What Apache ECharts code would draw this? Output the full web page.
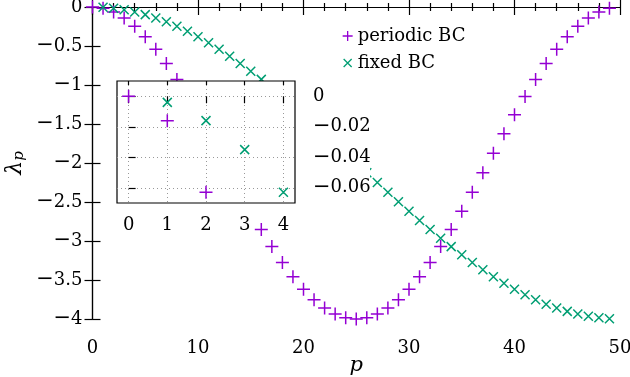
<!DOCTYPE html>
<html>
<head>
<meta charset="utf-8">
<script src="https://cdn.jsdelivr.net/npm/echarts@6/dist/echarts.min.js"></script>
<style>
  html, body { margin: 0; padding: 0; background: #fff; }
  #chart { width: 630px; height: 377px; }
</style>
</head>
<body>
<div id="chart"></div>
<script>
// eigenvalues, p = 0..49 (periodic) and p = 1..49 (fixed)
const periodic = [
  0, -0.016, -0.063, -0.140, -0.247, -0.382, -0.542, -0.725, -0.928, -1.148,
  -1.382, -1.625, -1.874, -2.126, -2.375, -2.618, -2.852, -3.072, -3.275, -3.458,
  -3.618, -3.753, -3.860, -3.937, -3.984, -4.000, -3.984, -3.937, -3.860, -3.753,
  -3.618, -3.458, -3.275, -3.072, -2.852, -2.618, -2.375, -2.126, -1.874, -1.625,
  -1.382, -1.148, -0.928, -0.725, -0.542, -0.382, -0.247, -0.140, -0.063, -0.016
];
const fixed = [
  -0.004, -0.016, -0.035, -0.063, -0.098, -0.140, -0.190, -0.247, -0.311, -0.382,
  -0.459, -0.542, -0.631, -0.725, -0.824, -0.928, -1.037, -1.148, -1.264, -1.382,
  -1.503, -1.625, -1.749, -1.874, -2.000, -2.126, -2.251, -2.375, -2.497, -2.618,
  -2.736, -2.852, -2.964, -3.072, -3.176, -3.275, -3.369, -3.458, -3.541, -3.618,
  -3.689, -3.753, -3.810, -3.860, -3.902, -3.937, -3.965, -3.984, -3.996
];
const insetXTicks = [0, 1, 2, 3, 4];
const insetYTicks = [0, -0.02, -0.04, -0.06];
const seriesNames = ['periodic BC', 'fixed BC'];

const purple = '#9400d3';
const green = '#009e73';
const font = 'DejaVu Serif';
const plusPath = 'path://M-1,0L1,0M0,-1L0,1';
const crossPath = 'path://M-1,-1L1,1M-1,1L1,-1';
// same cross, padded so the legend draws it a bit smaller than the plus
const crossLegend = 'path://M-1.25,-1.25M1.25,1.25M-1,-1L1,1M-1,1L1,-1';

const periodicPts = periodic.map((v, i) => [i, v]);
const fixedPts = fixed.map((v, i) => [i + 1, v]);
const insetPeriodic = periodicPts.filter(d => d[0] <= 4 && d[1] >= -0.07);
const insetFixed = fixedPts.filter(d => d[0] <= 4 && d[1] >= -0.07);

// wide typographic minus, like the original
const minus = v => v < 0 ? '{m|\u2212}' + String(-v) : String(v);
const minusRich = { m: { fontFamily: font, fontSize: 21, color: '#000' } };
const black = { lineStyle: { color: '#000', width: 1.2 } };
const tickStyle = { color: '#000', width: 1.2 };
const labelFont = { fontFamily: font, fontSize: 18, color: '#000', rich: minusRich };

const chart = echarts.init(document.getElementById('chart'));

chart.setOption({
  animation: false,
  backgroundColor: '#fff',
  textStyle: { fontFamily: font },
  grid: [
    { left: 92.5, right: 10, top: 7, bottom: 58, outerBoundsMode: 'none' },
    {
      left: 117, top: 81, width: 178, height: 122, z: 10, outerBoundsMode: 'none',
      show: true, backgroundColor: '#fff', borderColor: '#000', borderWidth: 1.2
    }
  ],
  // white patch behind the inset and its labels
  graphic: [{
    type: 'rect', z: 5, silent: true,
    shape: { x: 117, y: 81, width: 253, height: 138 },
    style: { fill: '#fff' }
  }],
  legend: {
    orient: 'vertical',
    left: 337,
    top: 22,
    itemWidth: 10,
    itemHeight: 10,
    itemGap: 9,
    textStyle: { fontFamily: font, fontSize: 18, color: '#000', lineHeight: 18 },
    data: [
      { name: seriesNames[0], icon: plusPath, itemStyle: { color: 'transparent', borderColor: purple, borderWidth: 1.3 } },
      { name: seriesNames[1], icon: crossLegend, itemStyle: { color: 'transparent', borderColor: green, borderWidth: 1.3 } }
    ]
  },
  xAxis: [
    {
      gridIndex: 0, type: 'value', position: 'bottom', min: 0, max: 50, interval: 10,
      name: 'p', nameLocation: 'middle', nameGap: 36, nameMoveOverlap: false,
      nameTextStyle: { fontFamily: font, fontSize: 21, fontStyle: 'italic', color: '#000' },
      axisLine: black,
      axisTick: { inside: true, length: 8, lineStyle: tickStyle },
      minorTick: { show: true, splitNumber: 5, length: 4, lineStyle: tickStyle },
      axisLabel: Object.assign({ margin: 20, formatter: minus }, labelFont),
      splitLine: { show: false }
    },
    {
      gridIndex: 0, type: 'value', position: 'top', min: 0, max: 50, interval: 10,
      axisLine: black,
      axisTick: { inside: true, length: 8, lineStyle: tickStyle },
      minorTick: { show: true, splitNumber: 5, length: 4, lineStyle: tickStyle },
      axisLabel: { show: false },
      splitLine: { show: false }
    },
    {
      gridIndex: 1, type: 'value', position: 'bottom', min: -0.3, max: 4.3, z: 11,
      axisLine: { show: false },
      axisTick: { inside: false, length: 7, customValues: insetXTicks, lineStyle: tickStyle },
      axisLabel: Object.assign({ margin: 13, customValues: insetXTicks, formatter: minus }, labelFont),
      splitLine: { show: true, lineStyle: { color: '#999', width: 1, type: [1, 3] } }
    },
    {
      gridIndex: 1, type: 'value', position: 'top', min: -0.3, max: 4.3, z: 11,
      axisLine: { show: false },
      axisTick: { inside: true, length: 4, customValues: insetXTicks, lineStyle: tickStyle },
      axisLabel: { show: false },
      splitLine: { show: false }
    }
  ],
  yAxis: [
    {
      gridIndex: 0, type: 'value', position: 'left', min: -4, max: 0, interval: 0.5,
      name: '{l|\u03bb}{s|p}', nameLocation: 'middle', nameGap: 66, nameRotate: 90,
      nameMoveOverlap: false,
      nameTextStyle: {
        rich: {
          l: { fontFamily: font, fontSize: 22, fontStyle: 'italic', color: '#000' },
          s: { fontFamily: font, fontSize: 15, fontStyle: 'italic', color: '#000', padding: [8, 0, 0, 0] }
        }
      },
      axisLine: black,
      axisTick: { inside: true, length: 8, lineStyle: tickStyle },
      axisLabel: Object.assign({ margin: 10, formatter: minus }, labelFont),
      splitLine: { show: false }
    },
    {
      gridIndex: 0, type: 'value', position: 'right', min: -4, max: 0, interval: 0.5,
      axisLine: black,
      axisTick: { inside: true, length: 8, lineStyle: tickStyle },
      axisLabel: { show: false },
      splitLine: { show: false }
    },
    {
      gridIndex: 1, type: 'value', position: 'right', min: -0.07, max: 0.01, z: 11,
      axisLine: { show: false },
      axisTick: { inside: false, length: 7, customValues: insetYTicks, lineStyle: tickStyle },
      axisLabel: Object.assign({ margin: 18, customValues: insetYTicks, formatter: minus }, labelFont),
      splitLine: { show: true, lineStyle: { color: '#999', width: 1, type: [1, 3] } }
    }
  ],
  series: [
    {
      name: seriesNames[0], type: 'scatter', xAxisIndex: 0, yAxisIndex: 0,
      data: periodicPts, symbol: plusPath, symbolSize: 13, clip: false,
      itemStyle: { color: 'transparent', borderColor: purple, borderWidth: 1.5, opacity: 1 }
    },
    {
      name: seriesNames[1], type: 'scatter', xAxisIndex: 0, yAxisIndex: 0,
      data: fixedPts, symbol: crossPath, symbolSize: 9, clip: false,
      itemStyle: { color: 'transparent', borderColor: green, borderWidth: 1.5, opacity: 1 }
    },
    {
      name: seriesNames[0], type: 'scatter', xAxisIndex: 2, yAxisIndex: 2, z: 12,
      data: insetPeriodic, symbol: plusPath, symbolSize: 13,
      itemStyle: { color: 'transparent', borderColor: purple, borderWidth: 1.5, opacity: 1 }
    },
    {
      name: seriesNames[1], type: 'scatter', xAxisIndex: 2, yAxisIndex: 2, z: 12,
      data: insetFixed, symbol: crossPath, symbolSize: 9,
      itemStyle: { color: 'transparent', borderColor: green, borderWidth: 1.5, opacity: 1 }
    }
  ]
});
</script>
</body>
</html>
